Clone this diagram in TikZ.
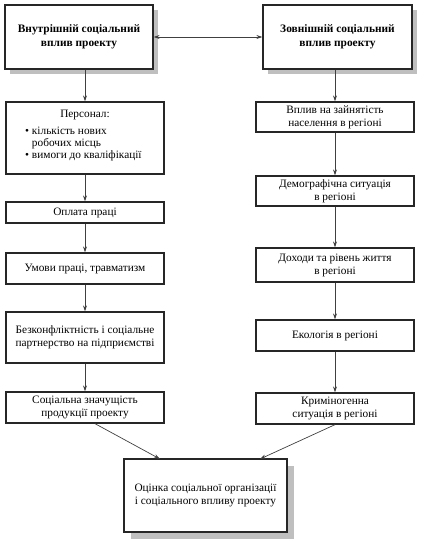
\documentclass[tikz,border=0pt]{standalone}
\usepackage{fontspec}
\setmainfont{Liberation Serif}
\usetikzlibrary{shadows,arrows.meta}
\begin{document}
\begin{tikzpicture}[x=1pt,y=-1pt,
  box/.style={draw=black!85,line width=1.3pt,fill=white,inner sep=2pt,align=center,font=\fontsize{11.3}{13}\selectfont},
  topbox/.style={box,font=\fontsize{11.4}{14}\bfseries\selectfont,drop shadow={shadow xshift=5pt,shadow yshift=-5pt,fill=black!25,opacity=1}},
  botbox/.style={box,drop shadow={shadow xshift=7pt,shadow yshift=-7pt,fill=black!25,opacity=1}},
  conn/.style={draw=black!75,line width=0.7pt,-{Stealth[length=6pt,width=4pt]}},
  txt/.style={inner sep=0pt,font=\fontsize{11.3}{12}\selectfont}]
\useasboundingbox (0,0) rectangle (420,543);
% top
\node[topbox,minimum width=148,minimum height=64] (tl) at (79,37) {Внутрішній соціальний\\вплив проекту};
\node[topbox,minimum width=149,minimum height=64] (tr) at (337.5,37) {Зовнішній соціальний\\вплив проекту};
% left column
\node[box,minimum width=158,minimum height=72] (l1) at (85,138) {};
\node[txt] (l1a) at (85,115) {Персонал:};
\node[txt,anchor=north west,align=left] (l1b) at (25,127) {\textbullet\ кількість нових\\\phantom{\textbullet\ }робочих місць\\\textbullet\ вимоги до кваліфікації};
\node[box,minimum width=158,minimum height=21] (l2) at (85,212.5) {Оплата праці};
\node[box,minimum width=158,minimum height=31] (l3) at (85,268.5) {Умови праці, травматизм};
\node[box,minimum width=158,minimum height=51] (l4) at (85,337.5) {Безконфліктність і соціальне\\партнерство на підприємстві};
\node[box,minimum width=158,minimum height=31] (l5) at (85,407.5) {Соціальна значущість\\продукції проекту};
% right column
\node[box,minimum width=158,minimum height=30] (r1) at (335,117) {Вплив на зайнятість\\населення в регіоні};
\node[box,minimum width=158,minimum height=30] (r2) at (335,191) {Демографічна ситуація\\в регіоні};
\node[box,minimum width=158,minimum height=34] (r3) at (335,265) {Доходи та рівень життя\\в регіоні};
\node[box,minimum width=158,minimum height=31] (r4) at (335,335.5) {Екологія в регіоні};
\node[box,minimum width=158,minimum height=31] (r5) at (335,408.5) {Криміногенна\\ситуація в регіоні};
% bottom
\node[botbox,minimum width=163,minimum height=73] (b) at (205.5,495.5) {Оцінка соціальної організації\\і соціального впливу проекту};
% connectors
\draw[conn,{Stealth[length=6pt,width=4pt]}-{Stealth[length=6pt,width=4pt]}] (tl.east) -- (tr.west);
\draw[conn] (tl.south -| l1.north) -- (l1.north);
\draw[conn] (l1) -- (l2);
\draw[conn] (l2) -- (l3);
\draw[conn] (l3) -- (l4);
\draw[conn] (l4) -- (l5);
\draw[conn] (tr.south -| r1.north) -- (r1.north);
\draw[conn] (r1) -- (r2);
\draw[conn] (r2) -- (r3);
\draw[conn] (r3) -- (r4);
\draw[conn] (r4) -- (r5);
\coordinate (bl) at (160,459);
\coordinate (br) at (260,459);
\draw[conn] (l5.south -| 95,0) -- (bl);
\draw[conn] (r5.south -| 335,0) -- (br);
\end{tikzpicture}
\end{document}
